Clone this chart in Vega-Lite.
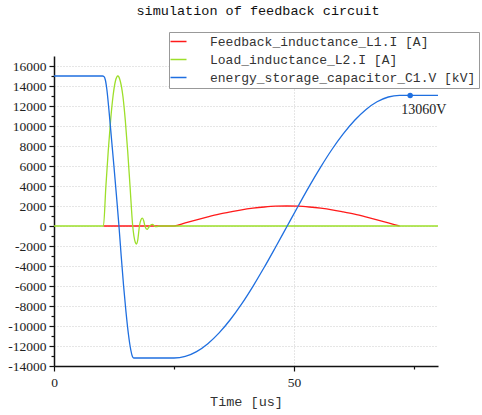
{
  "$schema": "https://vega.github.io/schema/vega-lite/v6.json",
  "width": 384,
  "height": 310,
  "autosize": {"type": "none"},
  "padding": {"left": 54, "top": 56, "right": 44, "bottom": 49},
  "background": "white",
  "title": {"text": "simulation of feedback circuit", "font": "Liberation Mono", "fontSize": 13.5, "fontWeight": "normal", "color": "#111", "anchor": "middle", "frame": "group", "dx": 12, "offset": 14},
  "config": {"view": {"stroke": null}, "axis": {"labelFont": "Liberation Serif", "labelFontSize": 13.5}},
  "datasets": {
    "curves": [
      {"s": "Feedback_inductance_L1.I [A]", "t": 10.3, "v": 0},
      {"s": "Feedback_inductance_L1.I [A]", "t": 25, "v": 0},
      {"s": "Feedback_inductance_L1.I [A]", "t": 27.35, "v": 310},
      {"s": "Feedback_inductance_L1.I [A]", "t": 29.7, "v": 620},
      {"s": "Feedback_inductance_L1.I [A]", "t": 32.05, "v": 910},
      {"s": "Feedback_inductance_L1.I [A]", "t": 34.4, "v": 1180},
      {"s": "Feedback_inductance_L1.I [A]", "t": 36.75, "v": 1410},
      {"s": "Feedback_inductance_L1.I [A]", "t": 39.1, "v": 1620},
      {"s": "Feedback_inductance_L1.I [A]", "t": 41.45, "v": 1780},
      {"s": "Feedback_inductance_L1.I [A]", "t": 43.8, "v": 1900},
      {"s": "Feedback_inductance_L1.I [A]", "t": 46.15, "v": 1980},
      {"s": "Feedback_inductance_L1.I [A]", "t": 48.5, "v": 2000},
      {"s": "Feedback_inductance_L1.I [A]", "t": 50.85, "v": 1980},
      {"s": "Feedback_inductance_L1.I [A]", "t": 53.2, "v": 1900},
      {"s": "Feedback_inductance_L1.I [A]", "t": 55.55, "v": 1780},
      {"s": "Feedback_inductance_L1.I [A]", "t": 57.9, "v": 1620},
      {"s": "Feedback_inductance_L1.I [A]", "t": 60.25, "v": 1410},
      {"s": "Feedback_inductance_L1.I [A]", "t": 62.6, "v": 1180},
      {"s": "Feedback_inductance_L1.I [A]", "t": 64.95, "v": 910},
      {"s": "Feedback_inductance_L1.I [A]", "t": 67.3, "v": 620},
      {"s": "Feedback_inductance_L1.I [A]", "t": 69.65, "v": 310},
      {"s": "Feedback_inductance_L1.I [A]", "t": 72, "v": 0},
      {"s": "Load_inductance_L2.I [A]", "t": 0, "v": 0},
      {"s": "Load_inductance_L2.I [A]", "t": 10.3, "v": 0},
      {"s": "Load_inductance_L2.I [A]", "t": 10.8, "v": 3900},
      {"s": "Load_inductance_L2.I [A]", "t": 11.3, "v": 7500},
      {"s": "Load_inductance_L2.I [A]", "t": 11.8, "v": 10600},
      {"s": "Load_inductance_L2.I [A]", "t": 12.3, "v": 13000},
      {"s": "Load_inductance_L2.I [A]", "t": 12.8, "v": 14500},
      {"s": "Load_inductance_L2.I [A]", "t": 13.3, "v": 15000},
      {"s": "Load_inductance_L2.I [A]", "t": 13.8, "v": 14500},
      {"s": "Load_inductance_L2.I [A]", "t": 14.35, "v": 13000},
      {"s": "Load_inductance_L2.I [A]", "t": 14.85, "v": 10600},
      {"s": "Load_inductance_L2.I [A]", "t": 15.35, "v": 7500},
      {"s": "Load_inductance_L2.I [A]", "t": 15.85, "v": 3900},
      {"s": "Load_inductance_L2.I [A]", "t": 16.4, "v": 0},
      {"s": "Load_inductance_L2.I [A]", "t": 16.65, "v": -1000},
      {"s": "Load_inductance_L2.I [A]", "t": 16.95, "v": -1650},
      {"s": "Load_inductance_L2.I [A]", "t": 17.2, "v": -1800},
      {"s": "Load_inductance_L2.I [A]", "t": 17.45, "v": -1400},
      {"s": "Load_inductance_L2.I [A]", "t": 17.8, "v": 0},
      {"s": "Load_inductance_L2.I [A]", "t": 18.1, "v": 600},
      {"s": "Load_inductance_L2.I [A]", "t": 18.4, "v": 780},
      {"s": "Load_inductance_L2.I [A]", "t": 18.7, "v": 500},
      {"s": "Load_inductance_L2.I [A]", "t": 18.95, "v": 0},
      {"s": "Load_inductance_L2.I [A]", "t": 19.2, "v": -280},
      {"s": "Load_inductance_L2.I [A]", "t": 19.45, "v": -330},
      {"s": "Load_inductance_L2.I [A]", "t": 19.7, "v": -150},
      {"s": "Load_inductance_L2.I [A]", "t": 19.95, "v": 0},
      {"s": "Load_inductance_L2.I [A]", "t": 20.3, "v": 150},
      {"s": "Load_inductance_L2.I [A]", "t": 20.55, "v": 170},
      {"s": "Load_inductance_L2.I [A]", "t": 20.8, "v": 60},
      {"s": "Load_inductance_L2.I [A]", "t": 21.1, "v": -50},
      {"s": "Load_inductance_L2.I [A]", "t": 21.4, "v": -70},
      {"s": "Load_inductance_L2.I [A]", "t": 21.8, "v": 0},
      {"s": "Load_inductance_L2.I [A]", "t": 22.5, "v": 0},
      {"s": "Load_inductance_L2.I [A]", "t": 80, "v": 0},
      {"s": "energy_storage_capacitor_C1.V [kV]", "t": 0, "v": 15000},
      {"s": "energy_storage_capacitor_C1.V [kV]", "t": 10.1, "v": 15000},
      {"s": "energy_storage_capacitor_C1.V [kV]", "t": 10.4, "v": 14950},
      {"s": "energy_storage_capacitor_C1.V [kV]", "t": 10.7, "v": 14600},
      {"s": "energy_storage_capacitor_C1.V [kV]", "t": 11.0, "v": 13700},
      {"s": "energy_storage_capacitor_C1.V [kV]", "t": 11.5, "v": 11300},
      {"s": "energy_storage_capacitor_C1.V [kV]", "t": 12.0, "v": 8600},
      {"s": "energy_storage_capacitor_C1.V [kV]", "t": 12.5, "v": 5900},
      {"s": "energy_storage_capacitor_C1.V [kV]", "t": 13.0, "v": 3100},
      {"s": "energy_storage_capacitor_C1.V [kV]", "t": 13.5, "v": 200},
      {"s": "energy_storage_capacitor_C1.V [kV]", "t": 14.0, "v": -3000},
      {"s": "energy_storage_capacitor_C1.V [kV]", "t": 14.5, "v": -6000},
      {"s": "energy_storage_capacitor_C1.V [kV]", "t": 15.0, "v": -8600},
      {"s": "energy_storage_capacitor_C1.V [kV]", "t": 15.5, "v": -10800},
      {"s": "energy_storage_capacitor_C1.V [kV]", "t": 16.0, "v": -12400},
      {"s": "energy_storage_capacitor_C1.V [kV]", "t": 16.3, "v": -13000},
      {"s": "energy_storage_capacitor_C1.V [kV]", "t": 16.6, "v": -13200},
      {"s": "energy_storage_capacitor_C1.V [kV]", "t": 25, "v": -13200},
      {"s": "energy_storage_capacitor_C1.V [kV]", "t": 27.35, "v": -13040},
      {"s": "energy_storage_capacitor_C1.V [kV]", "t": 29.7, "v": -12560},
      {"s": "energy_storage_capacitor_C1.V [kV]", "t": 32.05, "v": -11770},
      {"s": "energy_storage_capacitor_C1.V [kV]", "t": 34.4, "v": -10690},
      {"s": "energy_storage_capacitor_C1.V [kV]", "t": 36.75, "v": -9350},
      {"s": "energy_storage_capacitor_C1.V [kV]", "t": 39.1, "v": -7790},
      {"s": "energy_storage_capacitor_C1.V [kV]", "t": 41.45, "v": -6030},
      {"s": "energy_storage_capacitor_C1.V [kV]", "t": 43.8, "v": -4130},
      {"s": "energy_storage_capacitor_C1.V [kV]", "t": 46.15, "v": -2120},
      {"s": "energy_storage_capacitor_C1.V [kV]", "t": 48.5, "v": -70},
      {"s": "energy_storage_capacitor_C1.V [kV]", "t": 50.85, "v": 1980},
      {"s": "energy_storage_capacitor_C1.V [kV]", "t": 53.2, "v": 3990},
      {"s": "energy_storage_capacitor_C1.V [kV]", "t": 55.55, "v": 5890},
      {"s": "energy_storage_capacitor_C1.V [kV]", "t": 57.9, "v": 7650},
      {"s": "energy_storage_capacitor_C1.V [kV]", "t": 60.25, "v": 9210},
      {"s": "energy_storage_capacitor_C1.V [kV]", "t": 62.6, "v": 10550},
      {"s": "energy_storage_capacitor_C1.V [kV]", "t": 64.95, "v": 11630},
      {"s": "energy_storage_capacitor_C1.V [kV]", "t": 67.3, "v": 12420},
      {"s": "energy_storage_capacitor_C1.V [kV]", "t": 69.65, "v": 12900},
      {"s": "energy_storage_capacitor_C1.V [kV]", "t": 72, "v": 13060},
      {"s": "energy_storage_capacitor_C1.V [kV]", "t": 80, "v": 13060}
    ],
    "marker": [
      {"t": 74.2, "v": 13060, "label": "13060V"}
    ]
  },
  "encoding": {
    "x": {
      "field": "t", "type": "quantitative",
      "scale": {"domain": [0, 80], "nice": false, "zero": false},
      "axis": {
        "title": "Time [us]",
        "values": [0, 25, 50, 75],
        "labelExpr": "datum.value === 0 || datum.value === 50 ? '' + datum.value : ''",
        "labelFont": "Liberation Serif", "labelFontSize": 13.5, "labelColor": "#222",
        "labelPadding": 4, "labelFlush": false,
        "titleFont": "Liberation Mono", "titleFontSize": 13.5, "titleFontWeight": "normal", "titleColor": "#333",
        "titlePadding": 6,
        "domainColor": "#111", "domainWidth": 1.5,
        "tickColor": "#111", "tickWidth": 1.2,
        "tickSize": {"condition": {"test": "datum.value === 0 || datum.value === 50", "value": 5}, "value": 3},
        "grid": true, "gridColor": "#cccccc", "gridDash": [1, 2],
        "gridOpacity": {"condition": {"test": "datum.value === 50", "value": 1}, "value": 0},
        "encode": {"labels": {"update": {"font": {"value": "Liberation Serif"}}}}
      }
    },
    "y": {
      "field": "v", "type": "quantitative",
      "scale": {"domain": [-14000, 17000], "nice": false, "zero": false},
      "axis": {
        "title": null,
        "values": [-14000, -13000, -12000, -11000, -10000, -9000, -8000, -7000, -6000, -5000, -4000, -3000, -2000, -1000, 0, 1000, 2000, 3000, 4000, 5000, 6000, 7000, 8000, 9000, 10000, 11000, 12000, 13000, 14000, 15000, 16000],
        "labelExpr": "datum.value % 2000 === 0 ? '' + datum.value : ''",
        "labelFont": "Liberation Serif", "labelFontSize": 13.5, "labelColor": "#222",
        "labelPadding": 3, "labelFlush": false,
        "domainColor": "#111", "domainWidth": 1.5,
        "tickColor": "#111", "tickWidth": 1.2,
        "tickSize": {"condition": {"test": "datum.value % 2000 === 0", "value": 5}, "value": 3},
        "grid": true, "gridColor": "#cccccc", "gridDash": [1, 2],
        "gridOpacity": {"condition": {"test": "datum.value % 2000 === 0 && datum.value > -14000", "value": 1}, "value": 0},
        "encode": {"labels": {"update": {"font": {"value": "Liberation Serif"}}}}
      }
    }
  },
  "layer": [
    {
      "data": {"name": "curves"},
      "transform": [{"filter": "datum.s === 'Feedback_inductance_L1.I [A]'"}],
      "mark": {"type": "line", "strokeWidth": 1.3, "interpolate": "monotone"},
      "encoding": {
        "color": {
          "field": "s", "type": "nominal",
          "scale": {"domain": ["Feedback_inductance_L1.I [A]", "Load_inductance_L2.I [A]", "energy_storage_capacitor_C1.V [kV]"], "range": ["#ff1a1a", "#9ddf2a", "#1f6fe0"]},
          "legend": {
            "orient": "none", "legendX": 115, "legendY": -24,
            "title": null, "symbolType": "M-1.6,0H1.6", "symbolSize": 100, "symbolStrokeWidth": 1.5, "symbolOffset": 0,
            "labelFont": "Liberation Mono", "labelFontSize": 13, "labelColor": "#333", "labelLimit": 500,
            "labelOffset": 25, "strokeColor": "#999", "fillColor": "white", "padding": 3, "rowPadding": 4
          }
        }
      }
    },
    {
      "data": {"name": "curves"},
      "transform": [{"filter": "datum.s === 'Load_inductance_L2.I [A]'"}],
      "mark": {"type": "line", "strokeWidth": 1.3, "interpolate": "monotone"},
      "encoding": {"color": {"field": "s", "type": "nominal"}}
    },
    {
      "data": {"name": "curves"},
      "transform": [{"filter": "datum.s === 'energy_storage_capacitor_C1.V [kV]'"}],
      "mark": {"type": "line", "strokeWidth": 1.3, "interpolate": "monotone"},
      "encoding": {"color": {"field": "s", "type": "nominal"}}
    },
    {
      "data": {"name": "marker"},
      "mark": {"type": "point", "filled": true, "size": 30, "color": "#1f6fe0", "opacity": 1},
      "encoding": {}
    },
    {
      "data": {"name": "marker"},
      "mark": {"type": "text", "font": "Liberation Serif", "fontSize": 14, "align": "left", "baseline": "middle", "dx": -9, "dy": 15, "color": "#222"},
      "encoding": {"text": {"field": "label"}}
    }
  ]
}
